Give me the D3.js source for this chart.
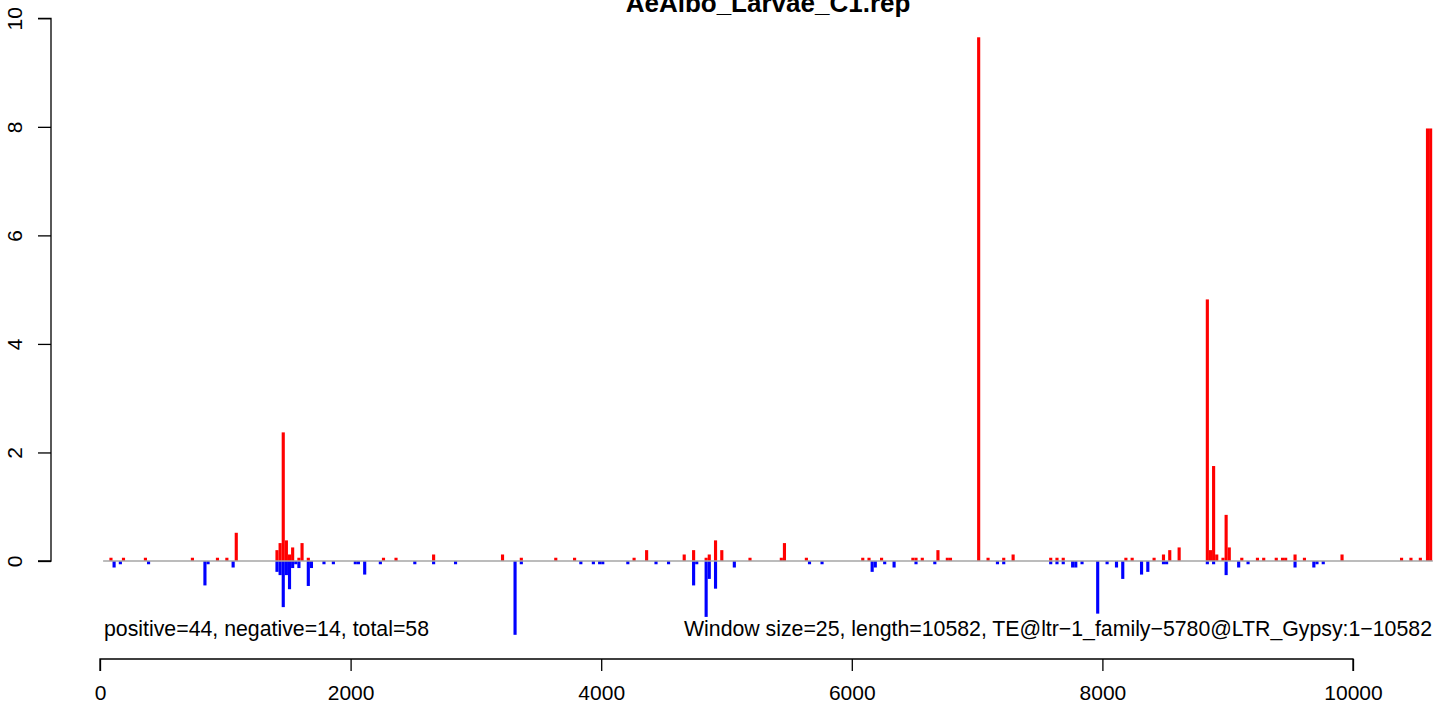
<!DOCTYPE html>
<html>
<head>
<meta charset="utf-8">
<script src="https://cdn.jsdelivr.net/npm/d3@7"></script>
<style>
  html, body { margin: 0; padding: 0; background: #fff; }
  svg { display: block; font-family: "Liberation Sans", Arial, Helvetica, sans-serif; }
</style>
</head>
<body>
<svg id="chart" width="1441" height="704"></svg>
<script>
const title = "AeAlbo_Larvae_C1.rep";
const leftNote = "positive=44, negative=14, total=58";
const rightNote = "Window size=25, length=10582, TE@ltr\u22121_family\u22125780@LTR_Gypsy:1\u221210582";
const windowSize = 25;
const seqLength = 10582;
const xTicks = [0, 2000, 4000, 6000, 8000, 10000];
const yTicks = [0, 2, 4, 6, 8, 10];

// positive (sense) signal: window start positions and values
const posPositions = [75,175,350,725,925,1000,1075,1400,1425,1450,1475,1500,1525,1575,1600,1650,
  2250,2350,2650,3200,3350,3625,3775,4250,4350,4650,4725,4825,4850,4900,4950,5175,5425,5450,5625,
  6075,6125,6225,6475,6500,6550,6675,6750,6775,7000,7075,7200,7275,7575,7625,7675,8175,8225,8400,
  8475,8525,8600,8825,8850,8875,8900,8950,8975,9000,9100,9225,9275,9375,9425,9450,9525,9600,9900,
  10375,10450,10525,10582,10607];
const posValues = [0.06,0.06,0.06,0.06,0.06,0.06,0.52,0.2,0.33,2.37,0.38,0.12,0.25,0.06,0.33,0.06,
  0.06,0.06,0.12,0.12,0.06,0.06,0.06,0.06,0.2,0.12,0.2,0.06,0.12,0.38,0.2,0.06,0.06,0.33,0.06,
  0.06,0.06,0.06,0.06,0.06,0.06,0.2,0.06,0.06,9.65,0.06,0.06,0.12,0.06,0.06,0.06,0.06,0.06,0.06,
  0.12,0.2,0.25,4.82,0.2,1.75,0.12,0.06,0.85,0.25,0.06,0.06,0.06,0.06,0.06,0.06,0.12,0.06,0.12,
  0.06,0.06,0.06,7.97,7.97];

// negative (antisense) signal
const negPositions = [100,150,375,825,850,1050,1400,1425,1450,1475,1500,1525,1550,1575,1650,1675,
  1775,1850,2025,2050,2100,2225,2500,2650,2825,3300,3350,3825,3925,3975,4000,4200,4425,4525,4725,
  4750,4825,4850,4900,5050,5650,5750,6150,6175,6250,6325,6500,6650,7150,7200,7575,7625,7675,7750,
  7775,7825,7950,8025,8100,8150,8300,8350,8475,8500,8825,8875,8975,9075,9150,9525,9675,9700,9750];
const negValues = [-0.12,-0.06,-0.06,-0.45,-0.06,-0.12,-0.2,-0.26,-0.85,-0.26,-0.52,-0.13,-0.06,-0.13,-0.46,-0.13,
  -0.06,-0.06,-0.06,-0.06,-0.25,-0.06,-0.06,-0.06,-0.06,-1.36,-0.06,-0.06,-0.06,-0.06,-0.06,-0.06,-0.06,-0.06,-0.45,
  -0.06,-1.03,-0.33,-0.51,-0.12,-0.06,-0.06,-0.2,-0.12,-0.06,-0.12,-0.06,-0.06,-0.06,-0.06,-0.06,-0.06,-0.06,-0.12,
  -0.12,-0.06,-0.97,-0.06,-0.12,-0.33,-0.25,-0.2,-0.06,-0.06,-0.06,-0.06,-0.26,-0.12,-0.06,-0.12,-0.12,-0.06,-0.06];

const FONT = "Liberation Sans, Arial, sans-serif";
const FS = 21;
const NOTE_FS = 21.3;

const svg = d3.select("#chart");
const x = d3.scaleLinear().domain([0, 10000]).range([100, 1353]);
const y = d3.scaleLinear().domain([0, 10]).range([561, 18.3]);

const pos = posPositions.map((p, i) => ({p, v: posValues[i]}));
const neg = negPositions.map((p, i) => ({p, v: negValues[i]}));

svg.append("g").selectAll("rect").data(pos).join("rect")
  .attr("x", d => x(d.p))
  .attr("width", d => x(d.p + windowSize) - x(d.p))
  .attr("y", d => y(d.v))
  .attr("height", d => y(0) - y(d.v))
  .attr("fill", "#ff0000");

svg.append("g").selectAll("rect").data(neg).join("rect")
  .attr("x", d => x(d.p))
  .attr("width", d => x(d.p + windowSize) - x(d.p))
  .attr("y", y(0))
  .attr("height", d => y(d.v) - y(0))
  .attr("fill", "#0000ff");

// baseline
svg.append("line")
  .attr("x1", x(25)).attr("x2", x(seqLength + 55))
  .attr("y1", y(0)).attr("y2", y(0))
  .attr("stroke", "#a6a6a6").attr("stroke-width", 1.6);

// x axis
const xAxis = d3.axisBottom(x).tickValues(xTicks).tickFormat(d3.format("d")).tickSize(12);
const gx = svg.append("g").attr("transform", "translate(0,659)").call(xAxis);
gx.select(".domain").attr("d", `M${x(0)},12V0H${x(10000)}V12`).attr("stroke", "#000").attr("stroke-width", 1.3);
gx.selectAll(".tick line").attr("stroke", "#000").attr("stroke-width", 1.3);
gx.selectAll(".tick text").attr("font-size", FS).attr("fill", "#000")
  .attr("font-family", FONT).attr("dy", null).attr("y", 41);

// y axis
const yAxis = d3.axisLeft(y).tickValues(yTicks).tickSize(13).tickPadding(0);
const gy = svg.append("g").attr("transform", "translate(51,0)").call(yAxis);
gy.select(".domain").attr("d", `M-13,${y(10)}H0V${y(0)}H-13`).attr("stroke", "#000").attr("stroke-width", 1.3);
gy.selectAll(".tick line").attr("stroke", "#000").attr("stroke-width", 1.3);
gy.selectAll(".tick text")
  .attr("font-size", FS).attr("fill", "#000")
  .attr("font-family", FONT)
  .attr("x", null).attr("dy", null)
  .attr("text-anchor", "middle")
  .attr("transform", "translate(-29,0) rotate(-90)")
  .attr("y", 0);

// title
svg.append("text").attr("x", 768).attr("y", 12)
  .attr("text-anchor", "middle").attr("font-size", 26).attr("font-weight", "bold")
  .attr("font-family", FONT)
  .text(title);

// notes
svg.append("text").attr("x", 104).attr("y", 636)
  .attr("font-size", NOTE_FS).attr("font-family", FONT).text(leftNote);
svg.append("text").attr("x", 1432).attr("y", 636)
  .attr("text-anchor", "end").attr("font-size", NOTE_FS).attr("font-family", FONT)
  .attr("textLength", 748).attr("lengthAdjust", "spacing").text(rightNote);
</script>
</body>
</html>
